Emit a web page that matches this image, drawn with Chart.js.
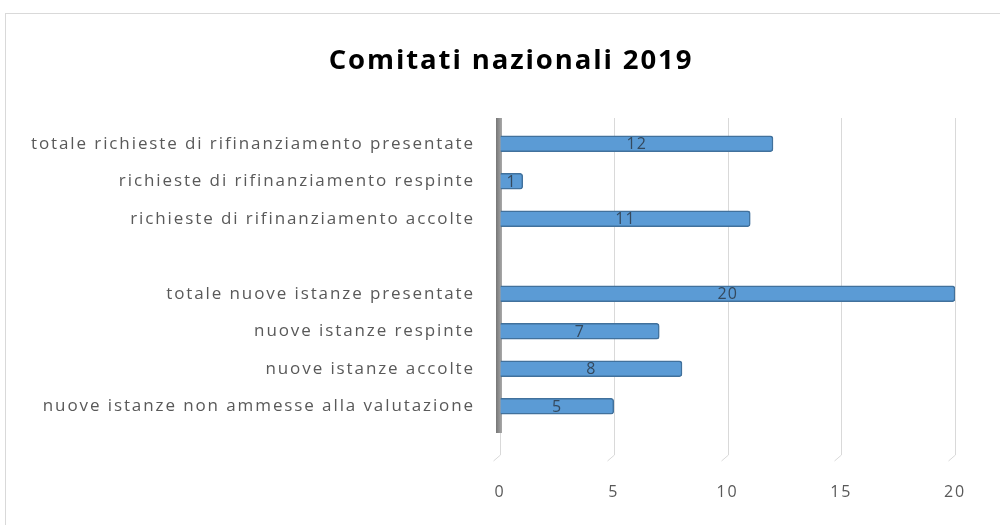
<!DOCTYPE html>
<html>
<head>
<meta charset="utf-8">
<script src="https://cdn.jsdelivr.net/npm/chart.js@4"></script>
<style>
  html, body { margin: 0; padding: 0; background: #fff; }
  #wrap { position: relative; width: 1000px; height: 525px; overflow: hidden; }
  #frame { position: absolute; left: 5px; top: 13px; width: 1010px; height: 530px; border: 1px solid #d9d9d9; box-sizing: border-box; }
  canvas { position: absolute; left: 0; top: 0; }
</style>
</head>
<body>
<div id="wrap">
  <div id="frame"></div>
  <canvas id="c" width="1000" height="525"></canvas>
</div>
<script>
const title = "Comitati nazionali 2019";
const categories = [
  "totale richieste di rifinanziamento presentate",
  "richieste di rifinanziamento respinte",
  "richieste di rifinanziamento accolte",
  "",
  "totale nuove istanze presentate",
  "nuove istanze respinte",
  "nuove istanze accolte",
  "nuove istanze non ammesse alla valutazione"
];
const values = [12, 1, 11, null, 20, 7, 8, 5];
const xTicks = [0, 5, 10, 15, 20];

const FONT = "'Open Sans', 'Liberation Sans', sans-serif";
const PAD_LEFT = 67;

const decor = {
  id: 'decor',
  afterInit(chart) {
    chart.ctx.letterSpacing = '1.9px';
  },
  afterLayout(chart) {
    // let the long category labels extend left of the padding (no clipping)
    chart.scales.y.left = 0;
  },
  beforeDatasetsDraw(chart) {
    const ctx = chart.ctx, xs = chart.scales.x, a = chart.chartArea;
    ctx.save();
    ctx.strokeStyle = '#d9d9d9';
    ctx.lineWidth = 1;
    xTicks.forEach(t => {
      const px = Math.round(xs.getPixelForValue(t)) + 0.5;
      ctx.beginPath();
      ctx.moveTo(px, a.top - 7);
      ctx.lineTo(px, a.bottom + 30);
      ctx.lineTo(px - 7, a.bottom + 36);
      ctx.stroke();
    });
    // left wall
    const x0 = xs.getPixelForValue(0);
    const g = ctx.createLinearGradient(x0 - 5, 0, x0 + 2, 0);
    g.addColorStop(0, '#6e6e6e');
    g.addColorStop(1, '#a8a8a8');
    ctx.fillStyle = g;
    ctx.fillRect(x0 - 4, a.top - 7, 6, a.bottom - a.top + 15);
    ctx.restore();
  },
  afterDatasetsDraw(chart) {
    const ctx = chart.ctx;
    const meta = chart.getDatasetMeta(0);
    ctx.save();
    ctx.letterSpacing = '1px';
    ctx.font = "16px " + FONT;
    ctx.fillStyle = '#34495e';
    ctx.textAlign = 'center';
    ctx.textBaseline = 'middle';
    meta.data.forEach((bar, i) => {
      if (values[i] == null) return;
      const cx = (bar.x + bar.base) / 2;
      ctx.fillText(String(values[i]), cx, bar.y + 1);
    });
    ctx.restore();
  }
};

const chart = new Chart(document.getElementById('c'), {
  type: 'bar',
  data: {
    labels: categories,
    datasets: [{
      data: values,
      backgroundColor: '#5b9bd5',
      borderColor: '#41719c',
      borderWidth: 1.5,
      borderRadius: {topRight: 3, bottomRight: 3},
      borderSkipped: 'left',
      barThickness: 16
    }]
  },
  options: {
    indexAxis: 'y',
    responsive: false,
    animation: false,
    layout: { padding: { left: PAD_LEFT, right: 45, top: 0, bottom: 0 } },
    plugins: {
      legend: { display: false },
      tooltip: { enabled: false },
      title: {
        display: true,
        text: title,
        color: '#000',
        font: { family: FONT, size: 27.5, weight: 'bold', lineHeight: 1.2 },
        padding: { top: 45, bottom: 47 }
      }
    },
    scales: {
      x: {
        min: 0, max: 20,
        afterBuildTicks(s) { s.ticks = xTicks.map(v => ({ value: v })); },
        grid: { display: true, drawOnChartArea: false, drawTicks: true, tickLength: 55, color: 'rgba(0,0,0,0)' },
        border: { display: false },
        ticks: { color: '#595959', font: { family: FONT, size: 16 }, padding: 3, maxRotation: 0 },
        afterFit(s) { s.height = 100; }
      },
      y: {
        grid: { display: false, drawTicks: false },
        border: { display: false },
        ticks: { color: '#595959', font: { family: FONT, size: 17 }, padding: 25, autoSkip: false },
        afterFit(s) { s.width = 500 - PAD_LEFT; }
      }
    }
  },
  plugins: [decor]
});
</script>
</body>
</html>
